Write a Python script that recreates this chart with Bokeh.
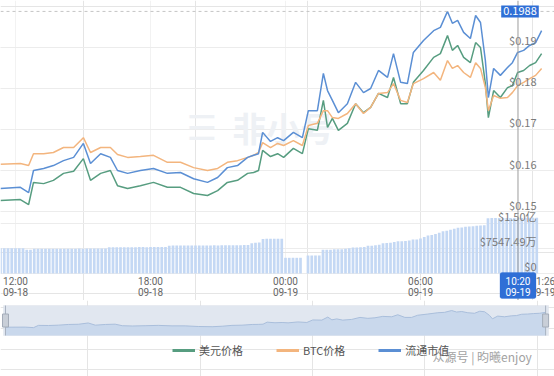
from bokeh.plotting import figure
from bokeh.layouts import column
from bokeh.models import (Range1d, Span, Label, Grid, FixedTicker, BoxAnnotation,
                          Legend, LegendItem)
from bokeh.embed import file_html
from bokeh.resources import INLINE

FONT = "Noto Sans CJK SC"
NUMFONT = "Roboto"

# ---------------- data ----------------
times = [
    "09-18 11:20", "09-18 12:13", "09-18 12:35", "09-18 12:48", "09-18 13:15", "09-18 13:41", "09-18 14:08", "09-18 14:35", "09-18 15:01", "09-18 15:20",
    "09-18 15:47", "09-18 16:13", "09-18 16:32", "09-18 16:59", "09-18 17:33", "09-18 18:08", "09-18 18:45", "09-18 19:20", "09-18 19:55", "09-18 20:32",
    "09-18 20:59", "09-18 21:25", "09-18 21:52", "09-18 22:19", "09-18 22:35", "09-18 22:48", "09-18 22:59", "09-18 23:20", "09-18 23:39", "09-18 23:55",
    "09-19 00:21", "09-19 00:45", "09-19 01:01", "09-19 01:25", "09-19 01:41", "09-19 01:52", "09-19 02:05", "09-19 02:21", "09-19 02:45", "09-19 03:07",
    "09-19 03:28", "09-19 03:47", "09-19 04:08", "09-19 04:32", "09-19 04:48", "09-19 05:07", "09-19 05:25", "09-19 05:41", "09-19 06:08", "09-19 06:35",
    "09-19 06:53", "09-19 07:12", "09-19 07:25", "09-19 07:39", "09-19 07:55", "09-19 08:13", "09-19 08:27", "09-19 08:40", "09-19 08:53", "09-19 09:01",
    "09-19 09:15", "09-19 09:33", "09-19 09:52", "09-19 10:05", "09-19 10:19", "09-19 10:35", "09-19 10:51", "09-19 11:07", "09-19 11:23",
]

market_cap = [  # 流通市值 (blue)
    0.1556, 0.1559, 0.1546, 0.1600, 0.1605, 0.1612, 0.1624, 0.1632, 0.1666, 0.1617,
    0.1641, 0.1632, 0.1600, 0.1593, 0.1600, 0.1605, 0.1593, 0.1595, 0.1580, 0.1571,
    0.1583, 0.1607, 0.1612, 0.1632, 0.1637, 0.1641, 0.1693, 0.1671, 0.1680, 0.1673,
    0.1693, 0.1680, 0.1746, 0.1746, 0.1837, 0.1795, 0.1771, 0.1741, 0.1763, 0.1815,
    0.1790, 0.1800, 0.1844, 0.1827, 0.1885, 0.1815, 0.1812, 0.1888, 0.1917, 0.1941,
    0.1949, 0.1988, 0.1959, 0.1966, 0.1937, 0.1922, 0.1978, 0.1961, 0.1868, 0.1778,
    0.1849, 0.1832, 0.1851, 0.1863, 0.1888, 0.1893, 0.1905, 0.1912, 0.1941,
]

usd_price = [  # 美元价格 (green)
    0.1527, 0.1529, 0.1517, 0.1571, 0.1568, 0.1576, 0.1593, 0.1598, 0.1629, 0.1576,
    0.1593, 0.1600, 0.1563, 0.1556, 0.1563, 0.1571, 0.1559, 0.1559, 0.1544, 0.1539,
    0.1551, 0.1571, 0.1576, 0.1593, 0.1595, 0.1600, 0.1649, 0.1634, 0.1641, 0.1632,
    0.1654, 0.1641, 0.1702, 0.1698, 0.1771, 0.1705, 0.1727, 0.1698, 0.1715, 0.1763,
    0.1741, 0.1754, 0.1788, 0.1778, 0.1827, 0.1763, 0.1763, 0.1815, 0.1844, 0.1876,
    0.1885, 0.1929, 0.1893, 0.1905, 0.1876, 0.1863, 0.1912, 0.1900, 0.1812, 0.1729,
    0.1795, 0.1778, 0.1802, 0.1807, 0.1839, 0.1844, 0.1856, 0.1863, 0.1885,
]

btc_price = [  # BTC价格 (orange)
    0.1615, 0.1617, 0.1612, 0.1641, 0.1641, 0.1644, 0.1656, 0.1656, 0.1680, 0.1644,
    0.1656, 0.1656, 0.1639, 0.1632, 0.1634, 0.1637, 0.1620, 0.1620, 0.1607, 0.1600,
    0.1605, 0.1620, 0.1624, 0.1632, 0.1637, 0.1644, 0.1668, 0.1656, 0.1666, 0.1661,
    0.1673, 0.1661, 0.1710, 0.1715, 0.1746, 0.1746, 0.1729, 0.1727, 0.1739, 0.1763,
    0.1739, 0.1754, 0.1788, 0.1790, 0.1812, 0.1771, 0.1766, 0.1812, 0.1824, 0.1839,
    0.1820, 0.1868, 0.1849, 0.1856, 0.1839, 0.1827, 0.1863, 0.1849, 0.1802, 0.1746,
    0.1783, 0.1776, 0.1778, 0.1790, 0.1807, 0.1815, 0.1824, 0.1832, 0.1849,
]

# volume bars (万 USD), one per 10 minutes starting at vol_start
vol_start = "09-18 11:20"
vol_step_minutes = 10
volume_wan = [
    7640, 7630, 7640, 7650, 7640, 7630, 7640,
    7160, 7150,
    7460, 7450, 7470, 7460, 7480, 7470, 7460, 7490, 7500, 7480, 7500, 7510, 7520, 7500, 7520, 7530, 7550, 7540, 7560, 7580,
    7900, 7920, 7940, 7930, 7950, 7960, 7940, 7950, 7970, 7980, 7960, 7980, 8000, 8010, 8000, 8020,
    8400, 8420, 8450, 8440, 8460, 8450, 8470, 8460, 8480, 8470, 8490, 8480, 8500, 8490, 8510, 8520, 8500, 8530, 8540, 8560, 8580, 8600,
    9150, 9300, 9350,
    10450, 10470, 10480, 10480, 10470, 10480,
    4740, 4740, 4750, 4740, 4750,
    0,
    5430, 5430, 5440, 5440,
    7150, 7160,
    7200, 7300,
    7340, 7350, 7500, 7600,
    7850, 7860, 7900, 8000,
    8360, 8370, 8500, 8700,
    9150, 9200, 9300, 9500,
    9750, 9760, 9800, 10000,
    10270, 10300, 10600, 11000,
    11470, 11600, 11900, 12300,
    12770, 12900, 13200, 13500,
    13800, 13900, 14100, 14200,
    14280, 14400, 14500, 14580,
    16700, 16720, 16740, 16750, 16750, 16760, 16770, 16770, 16780, 16790, 16800, 16800, 16810, 16820,
]

price_ticks = [0.15, 0.16, 0.17, 0.18, 0.19]
volume_ticks = [0, 7547.49, 15094.98]
volume_tick_labels = ["$0", "$7547.49万", "$1.50亿"]
time_ticks = ["09-18 12:00", "09-18 18:00", "09-19 00:00", "09-19 06:00", "09-19 11:26"]
cursor_time = "09-19 10:20"
cursor_price = 0.1988

series_names = ["美元价格", "BTC价格", "流通市值"]
series_colors = ["#579d80", "#f3b57e", "#5b8fd4"]
watermark = "众源号 | 昀曦enjoy"


def to_hours(s):
    md, hm = s.split()
    day = int(md.split("-")[1]) - 18
    h, m = hm.split(":")
    return day * 24 + int(h) + int(m) / 60.0


hours = [to_hours(t) for t in times]
tick_vals = [to_hours(t) for t in time_ticks]
cur_h = to_hours(cursor_time)
v0 = to_hours(vol_start)
bar_x = [v0 + i * vol_step_minutes / 60.0 for i in range(len(volume_wan))]
bar_w = vol_step_minutes / 60.0 * 0.72

W = 554
VOL_TOP = 82419
VOL_PER_PX = 301.9


def base_fig(h, y_range, x_range):
    p = figure(frame_width=W, frame_height=h, x_range=x_range, y_range=y_range,
               output_backend="svg", toolbar_location=None, min_border=0,
               x_axis_location=None, y_axis_location=None)
    p.outline_line_color = None
    p.background_fill_color = "white"
    p.border_fill_color = "white"
    return p


def time_label(p, x, t, color):
    md, hm = t.split()
    for txt, off in ((hm, -8), (md, -18)):
        p.add_layout(Label(x=x, y=0, y_range_name="vol", y_offset=off, text=txt,
                           text_align="center", text_baseline="middle", text_font=NUMFONT,
                           text_font_size="10px", text_color=color))


# ---------------- price + volume panel (one figure, two y scales) ----------------
p1 = base_fig(300, Range1d(0.128293, 0.201463), Range1d(11.3333, 35.9556))
p1.extra_y_ranges = {"vol": Range1d(-8151, VOL_TOP)}

p1.add_layout(Grid(dimension=1, ticker=FixedTicker(ticks=price_ticks),
                   grid_line_color="#ececec"))
p1.add_layout(Grid(dimension=1, ticker=FixedTicker(ticks=volume_ticks), y_range_name="vol",
                   grid_line_color="#ececec"))
p1.segment(x0=tick_vals[:4], x1=tick_vals[:4], y0=[0] * 4, y1=[VOL_TOP] * 4,
           y_range_name="vol", line_color="#f2f2f2", line_width=1, level="underlay")

p1.add_layout(Label(x=186, y=153, x_units="screen", y_units="screen", text="☰",
                    text_font="DejaVu Sans", text_font_size="34px", text_color="#eef1f5",
                    text_baseline="bottom", level="underlay"))
p1.add_layout(Label(x=232, y=149, x_units="screen", y_units="screen", text="非小号",
                    text_font=FONT, text_font_size="34px", text_font_style="bold",
                    text_color="#eef1f5", text_baseline="bottom", level="underlay"))

# volume bars
p1.vbar(x=bar_x, top=volume_wan, bottom=0, width=bar_w, fill_color="#c4d8f4",
        line_color=None, y_range_name="vol")

# price lines
p1.line(hours, usd_price, line_color=series_colors[0], line_width=1.5)
p1.line(hours, btc_price, line_color=series_colors[1], line_width=1.5)
p1.line(hours, market_cap, line_color=series_colors[2], line_width=1.5)

for t in price_ticks:
    p1.add_layout(Label(x=536, x_units="screen", y=t, text="$%.2f" % t, text_align="right",
                        text_baseline="bottom", y_offset=-1, text_font=FONT,
                        text_font_size="11px", text_color="#7a7a7a"))
for t, lab in zip(volume_ticks, volume_tick_labels):
    p1.add_layout(Label(x=536, x_units="screen", y=t, y_range_name="vol", text=lab,
                        text_align="right", text_baseline="bottom", y_offset=0,
                        text_font=FONT, text_font_size="11px", text_color="#7a7a7a"))

# time tick labels under the volume bars
for v, t in zip(tick_vals, time_ticks):
    time_label(p1, v, t, "#666666")

# crosshair
p1.add_layout(Span(location=cursor_price, dimension="width", line_color="#c4c4c4",
                   line_dash="3 3", line_width=1))
p1.add_layout(Span(location=cur_h, dimension="height", line_color="#9c9c9c", line_width=1))
p1.add_layout(Label(x=cur_h, y=cursor_price, text="%.4f" % cursor_price, text_align="center",
                    text_baseline="middle", text_font=FONT, text_font_size="11px",
                    text_color="white", background_fill_color="#2f6fd6", padding=2,
                    x_offset=2))
half_w = 18 / 22.5
p1.add_layout(BoxAnnotation(left=cur_h - half_w, right=cur_h + half_w,
                            top=VOL_PER_PX * 1, bottom=-VOL_PER_PX * 25, y_range_name="vol",
                            fill_color="#2f6fd6", fill_alpha=1, line_color="#2f6fd6",
                            border_radius=2))
time_label(p1, cur_h, cursor_time, "white")

# ---------------- slider + legend panel ----------------
p3 = base_fig(76, Range1d(0.0338, 0.2171), Range1d(11.1107, 35.779))
slider_bottom, slider_top = 0.1327, 0.2050
p3.add_layout(BoxAnnotation(bottom=slider_bottom, top=slider_top,
                            left=hours[0] - 0.09, right=hours[-1] + 0.13,
                            fill_color="#e1e7f0", fill_alpha=1, line_color="#d5dce6",
                            level="underlay"))
p3.varea(x=hours, y1=slider_bottom, y2=usd_price, fill_color="#c9d8ec")
p3.line(hours, usd_price, line_color="#a9bedb", line_width=1)
ends = [hours[0], hours[-1]]
p3.segment(x0=ends, y0=[slider_bottom] * 2, x1=ends, y1=[slider_top] * 2,
           line_color="#a8b2c0", line_width=1)
p3.rect(x=ends, y=[(slider_bottom + slider_top) / 2] * 2, width=6, height=13,
        width_units="screen", height_units="screen", fill_color="#c9cfd8",
        line_color="#a3acb9")

renderers = [p3.line([hours[0], hours[1]], [0.0, 0.0], line_color=c, line_width=3)
             for c in series_colors]
legend = Legend(items=[LegendItem(label=n, renderers=[r]) for n, r in zip(series_names, renderers)],
                orientation="horizontal", location=(172, 18), padding=0, margin=0,
                spacing=33, glyph_width=23, glyph_height=12, label_height=12,
                label_standoff=4, label_text_font=FONT, label_text_font_size="11px",
                label_text_color="#555555", background_fill_alpha=0, border_line_alpha=0)
p3.add_layout(legend)
p3.add_layout(Label(x=432, y=20, x_units="screen", y_units="screen", text=watermark,
                    text_baseline="middle", text_font=FONT, text_font_size="12px",
                    text_color="#a2a2a2"))

layout = column(p1, p3, spacing=0)
open("out.html", "w").write(file_html(layout, INLINE))
